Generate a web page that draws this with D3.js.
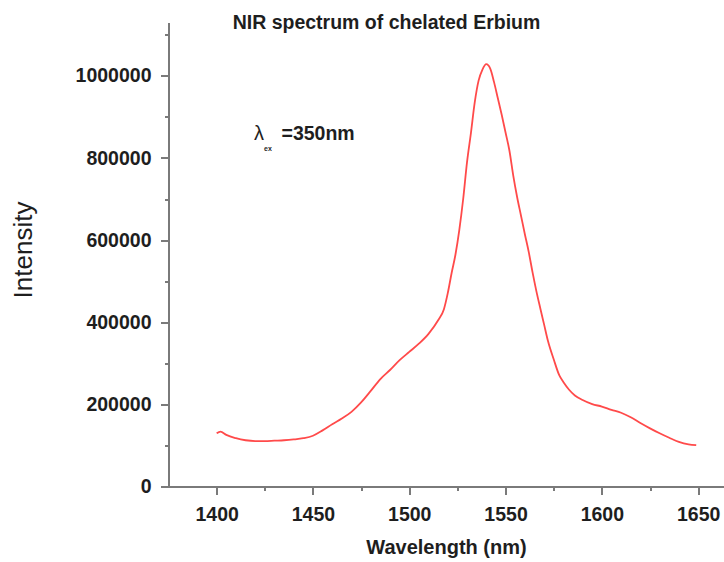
<!DOCTYPE html>
<html>
<head>
  <meta charset="utf-8">
  <title>NIR spectrum of chelated Erbium</title>
  <style>
    body { margin: 0; background: #fff; }
    svg { display: block; font-family: "Liberation Sans", Arial, sans-serif; }
    .axis path, .axis line { stroke: #7a7a7a; stroke-width: 2; shape-rendering: crispEdges; }
    .axis text { fill: #1e1e1e; font-size: 19.5px; font-weight: bold; }
    .spectrum { fill: none; stroke: #ff4a4a; stroke-width: 1.8; }
  </style>
  <script src="https://cdn.jsdelivr.net/npm/d3@7"></script>
</head>
<body>
<script>
// wavelength (nm) and intensity
var wavelength = [1400, 1402, 1405, 1410, 1415, 1420, 1425, 1430, 1435, 1440, 1445, 1450, 1455, 1460, 1465,
  1470, 1475, 1480, 1485, 1490, 1495, 1500, 1505, 1510, 1515, 1518, 1520, 1522, 1524, 1526, 1528, 1530,
  1532, 1534, 1536, 1538, 1540, 1542, 1544, 1546, 1548, 1550, 1552, 1554, 1556, 1558, 1560, 1562, 1564,
  1566, 1568, 1570, 1572, 1575, 1578, 1580, 1583, 1586, 1590, 1595, 1600, 1605, 1610, 1615, 1620, 1625,
  1630, 1635, 1640, 1645, 1649];
var intensity = [130000, 134000, 126000, 118000, 113000, 111000, 111000, 112000, 113000, 115000, 118000,
  124000, 137000, 152000, 166000, 182000, 205000, 233000, 262000, 284000, 308000, 328000, 348000, 372000,
  405000, 432000, 471000, 520000, 565000, 625000, 700000, 790000, 860000, 935000, 988000, 1015000, 1028000,
  1018000, 985000, 945000, 905000, 862000, 818000, 757000, 705000, 660000, 615000, 572000, 522000, 476000,
  435000, 395000, 355000, 310000, 270000, 255000, 236000, 222000, 211000, 201000, 195000, 187000, 180000,
  169000, 155000, 142000, 130000, 119000, 109000, 103000, 101000];
var xTicks = [1400, 1450, 1500, 1550, 1600, 1650];
var xMinor = [1425, 1475, 1525, 1575, 1625];
var yTicks = [0, 200000, 400000, 600000, 800000, 1000000];
var yMinor = [100000, 300000, 500000, 700000, 900000, 1100000];

var width = 724, height = 562;

var svg = d3.select("body").append("svg")
    .attr("width", width)
    .attr("height", height);

// scales
var x = d3.scaleLinear().domain([1375, 1675]).range([168.5, 746.3]);
var y = d3.scaleLinear().domain([0, 1130000]).range([486.7, 22.3]);

// minor ticks first, major axes on top
svg.append("g")
    .attr("class", "axis")
    .attr("transform", "translate(0,486.7)")
    .call(d3.axisBottom(x).tickValues(xMinor).tickSize(4).tickFormat(""))
    .select(".domain").remove();
svg.append("g")
    .attr("class", "axis")
    .attr("transform", "translate(168.5,0)")
    .call(d3.axisLeft(y).tickValues(yMinor).tickSize(4).tickFormat(""))
    .select(".domain").remove();

var xAxis = svg.append("g")
    .attr("class", "axis")
    .attr("transform", "translate(0,486.7)")
    .call(d3.axisBottom(x).tickValues(xTicks).tickSize(8).tickSizeOuter(0).tickPadding(8).tickFormat(d3.format("d")));
xAxis.selectAll("text").attr("dy", "0.95em");

var yAxis = svg.append("g")
    .attr("class", "axis")
    .attr("transform", "translate(168.5,0)")
    .call(d3.axisLeft(y).tickValues(yTicks).tickSize(8).tickSizeOuter(0).tickPadding(9).tickFormat(d3.format("d")));

// the spectrum
var line = d3.line()
    .x(function(d, i) { return x(wavelength[i]); })
    .y(function(d) { return y(d); })
    .curve(d3.curveMonotoneX);

svg.append("path")
    .datum(intensity)
    .attr("class", "spectrum")
    .attr("d", line);

// title and axis labels
svg.append("text")
    .attr("x", 386.5)
    .attr("y", 29)
    .attr("text-anchor", "middle")
    .style("font-size", "19.5px")
    .style("font-weight", "bold")
    .style("fill", "#1e1e1e")
    .text("NIR spectrum of chelated Erbium");

svg.append("text")
    .attr("x", 446.5)
    .attr("y", 554)
    .attr("text-anchor", "middle")
    .style("font-size", "20px")
    .style("font-weight", "bold")
    .style("fill", "#1e1e1e")
    .text("Wavelength (nm)");

svg.append("text")
    .attr("transform", "translate(32,250) rotate(-90)")
    .attr("text-anchor", "middle")
    .style("font-size", "26px")
    .style("fill", "#1e1e1e")
    .text("Intensity");

// excitation note
var note = svg.append("text")
    .attr("x", 254)
    .attr("y", 139.5)
    .style("fill", "#1e1e1e");
note.append("tspan")
    .style("font-size", "20px")
    .text("\u03bb");
note.append("tspan")
    .attr("dy", 11)
    .style("font-size", "7px")
    .style("font-weight", "bold")
    .text("ex");
note.append("tspan")
    .attr("x", 281.5)
    .attr("y", 139.5)
    .style("font-size", "19.5px")
    .style("font-weight", "bold")
    .text("=350nm");
</script>
</body>
</html>
